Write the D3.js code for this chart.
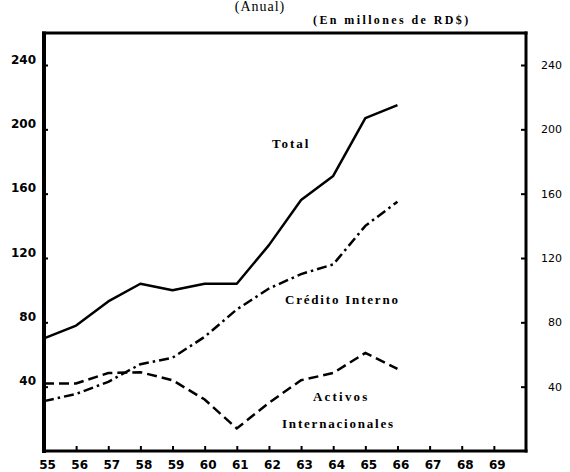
<!DOCTYPE html>
<html>
<head>
<meta charset="utf-8">
<script src="https://cdn.jsdelivr.net/npm/d3@7"></script>
<style>
  html, body { margin: 0; padding: 0; background: #fff; }
  svg { display: block; }
</style>
</head>
<body>
<svg id="chart" width="570" height="472"></svg>
<script>
// ---- Data (millions of RD$) ----
const years = [55, 56, 57, 58, 59, 60, 61, 62, 63, 64, 65, 66];
const total = [70, 78, 93, 104, 100, 104, 104, 128, 156, 171, 207, 215];
const creditoInterno = [31, 35.5, 43, 54, 58, 71, 88, 101, 110, 116, 140, 155];
const activosInternacionales = [42, 42, 48.5, 49, 44, 32, 14, 30, 44, 48.5, 61, 51];
const xTickLabels = [55, 56, 57, 58, 59, 60, 61, 62, 63, 64, 65, 66, 67, 68, 69];
const yTickLabels = [40, 80, 120, 160, 200, 240];

const svg = d3.select("#chart");

const x = d3.scaleLinear().domain([55, 70]).range([44, 526]);
const y = d3.scaleLinear().domain([0, 240]).range([451, 65]);

// Titles
svg.append("text")
  .attr("x", 260).attr("y", 11)
  .attr("text-anchor", "middle")
  .style("font-family", "'Liberation Serif', serif")
  .style("font-size", "14px")
  .style("letter-spacing", "1px")
  .text("(Anual)");

svg.append("text")
  .attr("x", 313).attr("y", 24)
  .style("font-family", "'Liberation Serif', serif")
  .style("font-weight", "bold")
  .style("font-size", "12px")
  .style("letter-spacing", "2.4px")
  .text("(En millones de RD$)");

// Frame
const frameTop = 33;
svg.append("line").attr("x1", x(55) - 2).attr("x2", x(70) + 1.5)
  .attr("y1", frameTop).attr("y2", frameTop)
  .attr("stroke", "#000").attr("stroke-width", 3);

// Left axis
const gL = svg.append("g").attr("transform", `translate(${x(55)},0)`)
  .call(d3.axisLeft(y).tickValues(yTickLabels).tickSize(-4).tickPadding(8).tickFormat(d => d));
gL.select(".domain").remove();
gL.append("line").attr("x1", 0).attr("x2", 0).attr("y1", frameTop - 1.5).attr("y2", y(0) + 2)
  .attr("stroke", "#000").attr("stroke-width", 4);
gL.selectAll(".tick line").attr("stroke", "#000").attr("stroke-width", 2);
gL.selectAll(".tick text")
  .attr("dy", "-0.15em")
  .style("font-family", "'DejaVu Sans', sans-serif")
  .style("font-weight", "bold")
  .style("font-size", "12px")
  .attr("fill", "#000");

// Right axis
const gR = svg.append("g").attr("transform", `translate(${x(70)},0)`)
  .call(d3.axisRight(y).tickValues(yTickLabels).tickSize(-5).tickFormat(d => d));
gR.select(".domain").remove();
gR.append("line").attr("x1", 0).attr("x2", 0).attr("y1", frameTop - 1.5).attr("y2", y(0) + 1.5)
  .attr("stroke", "#000").attr("stroke-width", 3);
gR.selectAll(".tick line").attr("stroke", "#000").attr("stroke-width", 2);
gR.selectAll(".tick text")
  .attr("x", 36)
  .attr("text-anchor", "end")
  .style("font-family", "'DejaVu Sans', sans-serif")
  .style("font-size", "11px")
  .attr("fill", "#000");

// Bottom axis
const gB = svg.append("g").attr("transform", `translate(0,${y(0)})`)
  .call(d3.axisBottom(x).tickValues(xTickLabels).tickSize(-5).tickPadding(9).tickFormat(d => d));
gB.select(".domain").remove();
gB.append("line").attr("x1", x(55) - 2).attr("x2", x(70) + 1.5).attr("y1", 0).attr("y2", 0)
  .attr("stroke", "#000").attr("stroke-width", 3);
gB.selectAll(".tick line").attr("stroke", "#000").attr("stroke-width", 2);
gB.selectAll(".tick text")
  .attr("dx", "3px")
  .style("font-family", "'DejaVu Sans', sans-serif")
  .style("font-weight", "bold")
  .style("font-size", "12px")
  .attr("fill", "#000");

// Lines
const line = d3.line().x((d, i) => x(years[i])).y(d => y(d));

svg.append("path").datum(total)
  .attr("d", line).attr("fill", "none")
  .attr("stroke", "#000").attr("stroke-width", 2.5)
  .attr("stroke-linejoin", "round");

svg.append("path").datum(creditoInterno)
  .attr("d", line).attr("fill", "none")
  .attr("stroke", "#000").attr("stroke-width", 2.5)
  .attr("stroke-dasharray", "10,4,2.5,4");

svg.append("path").datum(activosInternacionales)
  .attr("d", line).attr("fill", "none")
  .attr("stroke", "#000").attr("stroke-width", 2.5)
  .attr("stroke-dasharray", "10,5");

// Series labels
const labelStyle = (sel, ls) => sel
  .style("font-family", "'Liberation Serif', serif")
  .style("font-weight", "bold")
  .style("font-size", "13px")
  .style("letter-spacing", ls + "px")
  .attr("fill", "#000");

svg.append("text").attr("x", 272).attr("y", 148).text("Total").call(labelStyle, 2);
svg.append("text").attr("x", 285).attr("y", 304).text("Crédito Interno").call(labelStyle, 1.8);
svg.append("text").attr("x", 313).attr("y", 401).text("Activos").call(labelStyle, 2.2);
svg.append("text").attr("x", 282).attr("y", 428).text("Internacionales").call(labelStyle, 1.8);
</script>
</body>
</html>
